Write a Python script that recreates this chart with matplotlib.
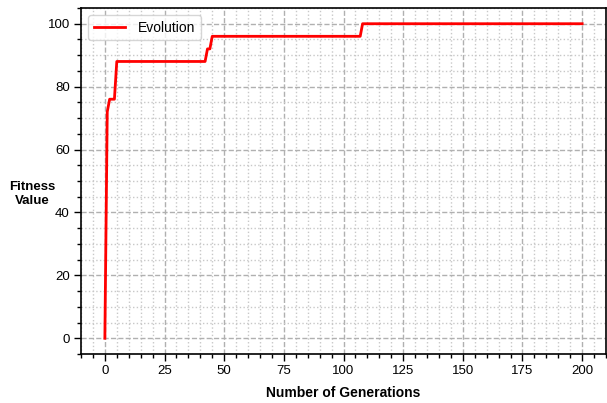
import matplotlib
matplotlib.use("Agg")
import matplotlib.pyplot as plt
from matplotlib.ticker import MultipleLocator

# generations where the best fitness changes, and the fitness there
generations = [0, 1, 2, 4, 5, 42, 43, 44, 45, 107, 108, 200]
fitness = [0, 72, 76, 76, 88, 88, 92, 92, 96, 96, 100, 100]

plt.rcParams['font.family'] = ['Liberation Sans', 'DejaVu Sans']

fig = plt.figure(figsize=(6.07, 4.03), dpi=100)
# axes box in pixels: left 81, right 606, top 8, bottom 354
ax = fig.add_axes([81/607, 1 - 354/403, 525/607, 346/403])

ax.plot(generations, fitness, color='red', lw=2, label='Evolution')

ax.xaxis.set_major_locator(MultipleLocator(25))
ax.xaxis.set_minor_locator(MultipleLocator(5))
ax.yaxis.set_major_locator(MultipleLocator(20))
ax.yaxis.set_minor_locator(MultipleLocator(5))

ax.grid(which='major', ls='--', color='#b0b0b0', lw=1)
ax.grid(which='minor', ls=':', color='#c8c8c8', lw=1)
ax.set_axisbelow(True)

ax.tick_params(which='major', length=5, width=1, labelsize=9.5, pad=3)
ax.tick_params(which='minor', length=3, width=1)

for s in ax.spines.values():
    s.set_linewidth(1.2)

ax.set_xlabel('Number of Generations', fontsize=10, fontweight='bold')
ax.xaxis.label.set_va('center')
ax.xaxis.set_label_coords(0.5, (354 - 393) / 346)

ax.set_ylabel('Fitness\nValue', fontsize=9.5, fontweight='bold', rotation=0,
              va='center', ha='center')
ax.yaxis.set_label_coords((32 - 81) / 525, (354 - 194) / 346)

ax.legend(loc='upper left', fontsize=10, fancybox=True, framealpha=0.8,
          edgecolor='#cccccc', handlelength=2.3, handletextpad=0.9)

fig.savefig('out.png', dpi=100)
